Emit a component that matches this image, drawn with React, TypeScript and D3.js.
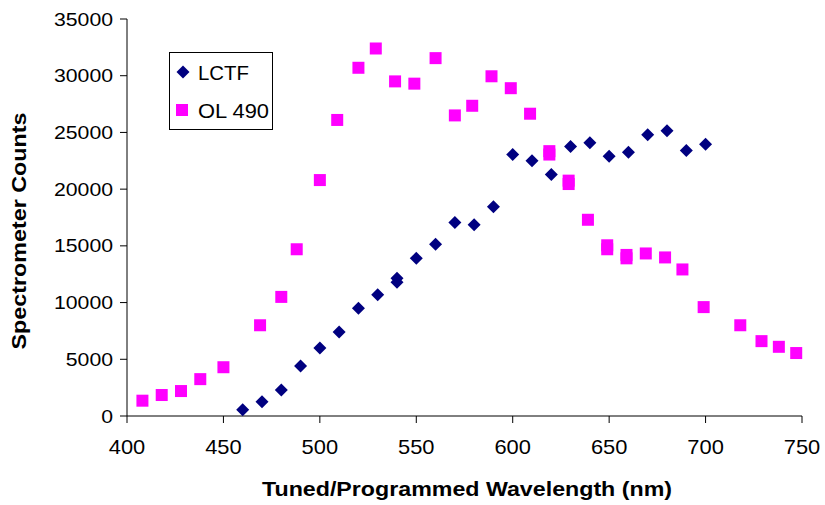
import React from "react";
import * as d3 from "d3";

const lctfWavelengths = [460, 470, 480, 490, 500, 510, 520, 530, 540, 540, 550, 560, 570, 580, 590, 600, 610, 620, 630, 640, 650, 660, 670, 680, 690, 700];
const lctfCounts = [550, 1250, 2300, 4400, 6000, 7400, 9500, 10700, 12150, 11800, 13900, 15150, 17050, 16850, 18450, 23050, 22500, 21300, 23750, 24100, 22900, 23250, 24800, 25150, 23400, 23950];

const olWavelengths = [408, 418, 428, 438, 450, 469, 480, 488, 500, 509, 520, 529, 539, 549, 560, 570, 579, 589, 599, 609, 619, 619, 629, 629, 639, 649, 649, 659, 659, 669, 679, 688, 699, 718, 729, 738, 747];
const olCounts = [1350, 1850, 2200, 3250, 4300, 8000, 10500, 14700, 20800, 26100, 30700, 32400, 29500, 29300, 31550, 26500, 27350, 29950, 28900, 26650, 23350, 23050, 20750, 20450, 17300, 15050, 14700, 14200, 13900, 14330, 13980, 12920, 9600, 8000, 6600, 6100, 5550];

const xTicks = [400, 450, 500, 550, 600, 650, 700, 750];
const yTicks = [0, 5000, 10000, 15000, 20000, 25000, 30000, 35000];

const seriesNames = ["LCTF", "OL 490"];
const xTitle = "Tuned/Programmed Wavelength (nm)";
const yTitle = "Spectrometer Counts";

const NAVY = "#000080";
const MAGENTA = "#FF00FF";
const FONT = "'Liberation Sans', Arial, sans-serif";

export default function App() {
  const x = d3.scaleLinear().domain([400, 750]).range([127, 802]);
  const y = d3.scaleLinear().domain([0, 35000]).range([416, 19]);
  const d = 6.5;
  const diamond = `M0,${-d}L${d},0L0,${d}L${-d},0Z`;
  const sq = 12;

  return (
    <svg
      width={825}
      height={505}
      style={{ position: "absolute", left: 0, top: 0, background: "#fff" }}
      fontFamily={FONT}
    >
      <rect x={0} y={0} width={825} height={505} fill="#fff" />
      {/* axes */}
      <line x1={x(400)} x2={x(400)} y1={y(35000)} y2={y(0)} stroke="#000" strokeWidth={1} />
      <line x1={x(400)} x2={x(750)} y1={y(0)} y2={y(0)} stroke="#000" strokeWidth={1} />
      {yTicks.map((t) => (
        <g key={"y" + t}>
          <line x1={x(400) - 7} x2={x(400)} y1={y(t)} y2={y(t)} stroke="#000" />
          <text
            x={113}
            y={y(t) + 6.5}
            textAnchor="end"
            fontSize={18}
            textLength={String(t).length * 11.8}
            lengthAdjust="spacingAndGlyphs"
          >
            {t}
          </text>
        </g>
      ))}
      {xTicks.map((t) => (
        <g key={"x" + t}>
          <line x1={x(t)} x2={x(t)} y1={y(0)} y2={y(0) + 7} stroke="#000" />
          <text
            x={x(t)}
            y={454}
            textAnchor="middle"
            fontSize={21}
            textLength={36.5}
            lengthAdjust="spacingAndGlyphs"
          >
            {t}
          </text>
        </g>
      ))}
      {/* titles */}
      <text
        x={467}
        y={496}
        textAnchor="middle"
        fontSize={20}
        fontWeight="bold"
        textLength={410}
        lengthAdjust="spacingAndGlyphs"
      >
        {xTitle}
      </text>
      <text
        transform={`translate(26,231) rotate(-90)`}
        textAnchor="middle"
        fontSize={20}
        fontWeight="bold"
        textLength={237}
        lengthAdjust="spacingAndGlyphs"
      >
        {yTitle}
      </text>
      {/* data */}
      {olWavelengths.map((w, i) => (
        <rect
          key={"o" + i}
          x={x(w) - sq / 2}
          y={y(olCounts[i]) - sq / 2}
          width={sq}
          height={sq}
          fill={MAGENTA}
        />
      ))}
      {lctfWavelengths.map((w, i) => (
        <path
          key={"l" + i}
          d={diamond}
          transform={`translate(${x(w)},${y(lctfCounts[i])})`}
          fill={NAVY}
        />
      ))}
      {/* legend */}
      <rect x={169.5} y={52.5} width={103} height={77} fill="#fff" stroke="#000" strokeWidth={1} />
      <path d={diamond} transform="translate(183,72)" fill={NAVY} />
      <text x={198} y={79.5} fontSize={21} textLength={51} lengthAdjust="spacingAndGlyphs">
        {seriesNames[0]}
      </text>
      <rect x={182 - sq / 2} y={110 - sq / 2} width={sq} height={sq} fill={MAGENTA} />
      <text x={198} y={117.5} fontSize={21} textLength={71} lengthAdjust="spacingAndGlyphs">
        {seriesNames[1]}
      </text>
    </svg>
  );
}
